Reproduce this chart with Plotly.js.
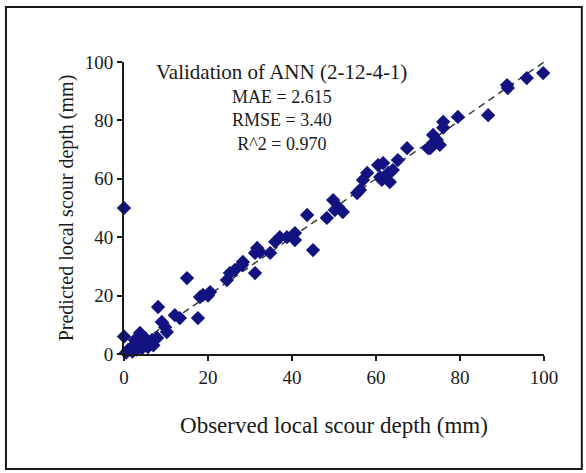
<!DOCTYPE html>
<html>
<head>
<meta charset="utf-8">
<script src="https://cdn.plot.ly/plotly-3.0.1.min.js"></script>
<style>html,body{margin:0;padding:0;background:#fff;}#chart{width:586px;height:473px;}</style>
</head>
<body>
<div id="chart"></div>
<script>
// Observed vs predicted local scour depth (mm), validation set
var observed = [0, 0, 1, 1.9, 2.6, 3.3, 3.8, 4.3, 5, 5.7, 6.7, 7.9, 0.5, 2, 3, 6, 7,
  8.1, 9, 9.8, 10.2, 12.1, 13.3, 15, 17.6, 18.1, 18.8, 20.5, 20,
  24.5, 25.2, 26.4, 28.1, 28.3, 31.2, 31.2, 32.4, 34.8, 31.7, 36, 37.1, 38.8, 40.7, 40.7, 45,
  43.6, 48.3, 49.8, 51, 52.1, 50.2, 55.5, 56.2, 56.9, 57.9, 60.5, 61.7, 61.4, 63.3, 62.9, 64, 61,
  65.2, 67.4, 72.4, 73.6, 72.9, 74.5, 75.2, 73.6, 76, 76, 79.5, 86.7, 91.2, 91.4, 95.9, 99.8];
var predicted = [50, 6, 1.4, 2.4, 4.8, 3.8, 7.2, 2, 5.5, 2.4, 4.8, 5.5, 0.5, 0.8, 1.5, 3.5, 3,
  16.1, 11, 9.2, 7.5, 13.3, 12.3, 26, 12.3, 19.5, 20.2, 21.2, 20,
  25.3, 27.7, 28.8, 30.5, 31.5, 27.7, 34.6, 34.9, 34.6, 36.3, 38.4, 40, 40, 39, 41.4, 35.6,
  47.6, 46.6, 52.7, 50.3, 48.6, 49.3, 55.1, 56.2, 59.6, 62, 64.7, 65.4, 59.6, 58.9, 62, 63, 60.6,
  66.4, 70.5, 70.5, 72.3, 70.5, 73.3, 71.6, 75, 77.5, 79.5, 81.2, 81.8, 92.1, 91.1, 94.5, 96.2];
var lineX = [0, 100];
var lineY = [0, 100];
var tickVals = [0, 20, 40, 60, 80, 100];
var modelLabel = "Validation of ANN (2-12-4-1)";
var statLines = ["MAE = 2.615", "RMSE = 3.40", "R^2 = 0.970"];

var serif = "Liberation Serif, Times New Roman, serif";
var traces = [
  {x: lineX, y: lineY, mode: "lines", type: "scatter",
   line: {color: "#3a3a3a", width: 1.5, dash: "7px,5px"}, hoverinfo: "skip", showlegend: false},
  {x: observed, y: predicted, mode: "markers", type: "scatter", cliponaxis: false,
   marker: {symbol: "diamond", size: 11, color: "#121280", line: {width: 0}}, showlegend: false}
];
var annotations = [
  {text: modelLabel, x: 37.6, y: 96.6, xref: "x", yref: "y", showarrow: false,
   xanchor: "center", yanchor: "middle", font: {family: serif, size: 21, color: "#1a1a1a"}},
  {text: statLines.join("<br>"), x: 37.6, y: 80.1, xref: "x", yref: "y", showarrow: false,
   xanchor: "center", yanchor: "middle", align: "center", font: {family: serif, size: 18, color: "#1a1a1a"}}
];
var layout = {
  width: 586, height: 473,
  margin: {l: 124, r: 42, t: 62, b: 119},
  paper_bgcolor: "#fff", plot_bgcolor: "#fff",
  font: {family: serif, color: "#1a1a1a"},
  xaxis: {range: [0, 100], tickvals: tickVals, showgrid: false, zeroline: false,
    showline: true, linecolor: "#1a1a1a", linewidth: 2, ticks: "outside", ticklen: 5, tickwidth: 2, tickcolor: "#1a1a1a",
    tickfont: {family: serif, size: 19, color: "#1a1a1a"},
    title: {text: "Observed local scour depth (mm)", font: {family: serif, size: 23, color: "#1a1a1a"}, standoff: 30}},
  yaxis: {range: [0, 100], tickvals: tickVals, showgrid: false, zeroline: false,
    showline: true, linecolor: "#1a1a1a", linewidth: 2, ticks: "outside", ticklen: 5, tickwidth: 2, tickcolor: "#1a1a1a",
    tickfont: {family: serif, size: 19, color: "#1a1a1a"},
    title: {text: "Predicted local scour depth (mm)", font: {family: serif, size: 20, color: "#1a1a1a"}, standoff: 6}},
  annotations: annotations,
  shapes: [{type: "rect", xref: "paper", yref: "paper", x0: -0.281, x1: 1.09, y0: -0.394, y1: 1.188,
    line: {color: "#1a1a1a", width: 2}, fillcolor: "rgba(0,0,0,0)"}]
};
Plotly.newPlot("chart", traces, layout, {displayModeBar: false, staticPlot: true});
</script>
</body>
</html>
